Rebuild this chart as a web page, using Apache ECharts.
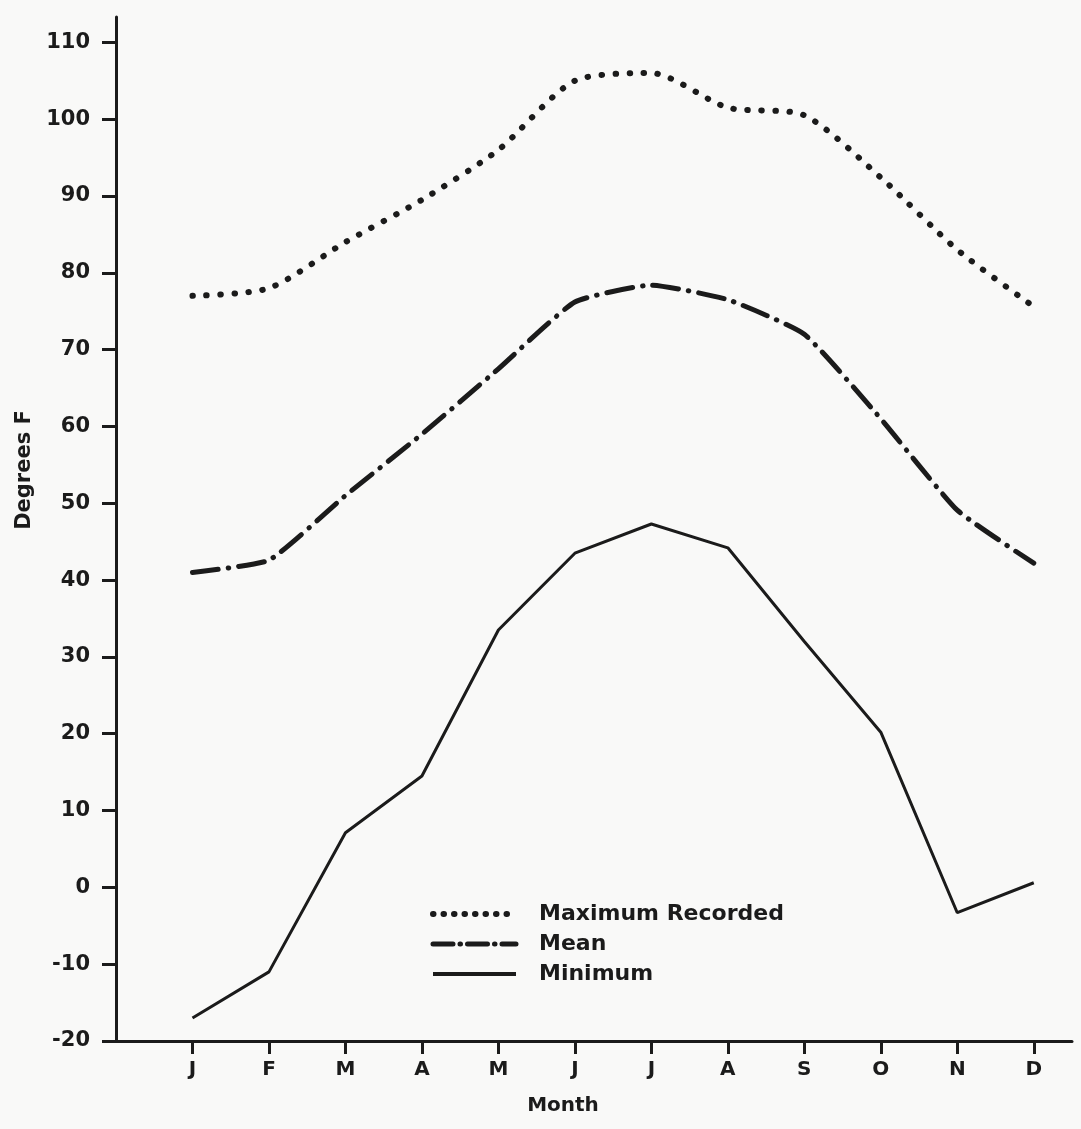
<!DOCTYPE html>
<html>
<head>
<meta charset="utf-8">
<script src="https://cdn.jsdelivr.net/npm/echarts@6/dist/echarts.min.js"></script>
<style>
  html, body { margin: 0; padding: 0; background: #f9f9f8; }
  #chart { width: 1081px; height: 1129px; }
</style>
</head>
<body>
<div id="chart"></div>
<script>
const months = ['J', 'F', 'M', 'A', 'M', 'J', 'J', 'A', 'S', 'O', 'N', 'D']
const yTicks = [-20, -10, 0, 10, 20, 30, 40, 50, 60, 70, 80, 90, 100, 110]
const maxRecorded = [77, 78, 84, 89.5, 96, 105, 106, 101.5, 100.5, 92.4, 83, 75.6]
const meanTemp = [41, 42.6, 51, 59, 67.5, 76.2, 78.4, 76.5, 72, 61, 49.1, 42.2]
const minTemp = [-17, -11, 7.1, 14.5, 33.5, 43.5, 47.3, 44.2, 32, 20.2, -3.3, 0.6]

const ink = '#1b1b1b'
const font = 'DejaVu Sans'

// line styles shared by the series and their legend samples
const dotted = { color: ink, width: 6, type: [0.5, 13.5], cap: 'round' }
const dashDot = { color: ink, width: 5, type: [26, 10, 0.5, 10], cap: 'round' }
const solid = { color: ink, width: 3, type: 'solid' }

const toPoints = (vals) => vals.map((v, i) => [i + 1, v])

const chart = echarts.init(document.getElementById('chart'), null, { renderer: 'canvas' })

chart.setOption({
  backgroundColor: '#f9f9f8',
  animation: false,
  grid: { left: 116, right: 9, top: 17, bottom: 88 },
  legend: {
    orient: 'vertical',
    left: 425,
    top: 898,
    itemWidth: 83,
    itemHeight: 20,
    itemGap: 8,
    itemStyle: { opacity: 0 },
    textStyle: {
      color: ink,
      fontFamily: font,
      fontWeight: 'bold',
      fontSize: 22,
      padding: [0, 0, 0, 18]
    },
    data: [
      { name: 'Maximum Recorded', lineStyle: { ...dotted, type: [0.5, 10] } },
      { name: 'Mean', lineStyle: { ...dashDot, type: [20, 7, 0.5, 7] } },
      { name: 'Minimum', lineStyle: { ...solid, width: 4 } }
    ]
  },
  xAxis: {
    type: 'value',
    min: 0,
    max: 12.5,
    name: 'Month',
    nameLocation: 'middle',
    nameGap: 55,
    nameTextStyle: {
      color: ink,
      fontFamily: font,
      fontWeight: 'bold',
      fontSize: 20,
      padding: [0, 62, 0, 0]
    },
    axisLine: { onZero: false, lineStyle: { color: ink, width: 3 } },
    axisTick: {
      customValues: months.map((m, i) => i + 1),
      length: 13,
      lineStyle: { color: ink, width: 3 }
    },
    axisLabel: {
      customValues: months.map((m, i) => i + 1),
      formatter: (v) => months[v - 1],
      margin: 19,
      color: ink,
      fontFamily: font,
      fontWeight: 'bold',
      fontSize: 20
    },
    splitLine: { show: false }
  },
  yAxis: {
    type: 'value',
    min: -20,
    max: 113.3,
    name: 'Degrees F',
    nameLocation: 'middle',
    nameGap: 76,
    nameTextStyle: {
      color: ink,
      fontFamily: font,
      fontWeight: 'bold',
      fontSize: 21,
      padding: [0, 0, 0, 118]
    },
    axisLine: { show: true, onZero: false, lineStyle: { color: ink, width: 3 } },
    axisTick: {
      customValues: yTicks,
      length: 14,
      lineStyle: { color: ink, width: 3 }
    },
    axisLabel: {
      customValues: yTicks,
      margin: 26,
      color: ink,
      fontFamily: font,
      fontWeight: 'bold',
      fontSize: 21
    },
    splitLine: { show: false }
  },
  series: [
    {
      name: 'Maximum Recorded',
      type: 'line',
      data: toPoints(maxRecorded),
      symbol: 'none',
      smooth: 0.25,
      color: ink,
      lineStyle: dotted
    },
    {
      name: 'Mean',
      type: 'line',
      data: toPoints(meanTemp),
      symbol: 'none',
      smooth: 0.15,
      color: ink,
      lineStyle: dashDot
    },
    {
      name: 'Minimum',
      type: 'line',
      data: toPoints(minTemp),
      symbol: 'none',
      color: ink,
      lineStyle: solid
    }
  ]
})
</script>
</body>
</html>
